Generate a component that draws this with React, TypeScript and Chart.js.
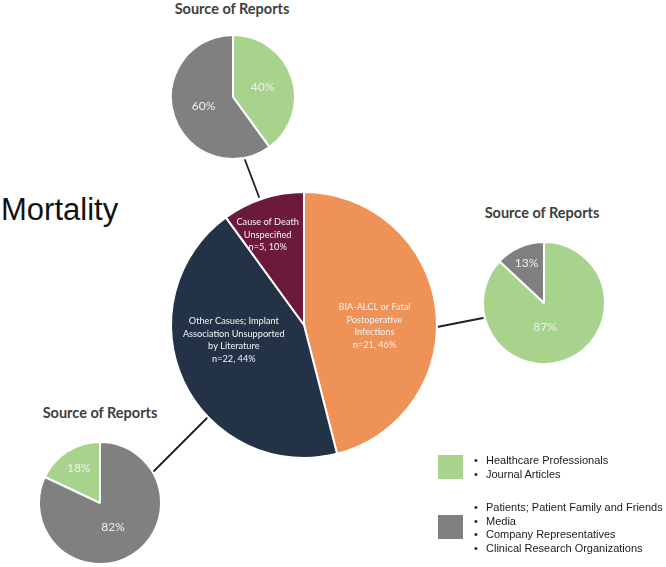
import React, { useEffect, useRef } from "react";
import { Chart, registerables } from "chart.js";

Chart.register(...registerables);

// ---------- data ----------
const mainCategories = [
  "BIA-ALCL or Fatal\nPostoperative\nInfections",
  "Other Casues; Implant\nAssociation Unsupported\nby Literature",
  "Cause of Death\nUnspecified",
];
const mainPercents = [46, 44, 10];
const mainCounts = [21, 22, 5];

const sourceCategories = [
  "Healthcare Professionals; Journal Articles",
  "Patients; Patient Family and Friends; Media; Company Representatives; Clinical Research Organizations",
];
const topSourcePercents = [40, 60];
const rightSourcePercents = [87, 13];
const bottomSourcePercents = [18, 82];

const legendHealthcare = ["Healthcare Professionals", "Journal Articles"];
const legendOther = [
  "Patients; Patient Family and Friends",
  "Media",
  "Company Representatives",
  "Clinical Research Organizations",
];

const mainTitle = "Mortality";
const sourceTitle = "Source of Reports";

// ---------- styles ----------
const mainColors = ["#EF9257", "#243248", "#6C1A3B"];
const sourceColors = ["#A8D38D", "#808080"];
const labelFont = "'Lato', 'Open Sans', sans-serif";

const sliceLabels = {
  id: "sliceLabels",
  afterDatasetsDraw(chart: any, _args: any, opts: any) {
    const ctx = chart.ctx;
    const meta = chart.getDatasetMeta(0);
    ctx.save();
    ctx.fillStyle = opts.color;
    ctx.font = opts.font;
    ctx.textAlign = "center";
    ctx.textBaseline = "middle";
    meta.data.forEach((arc: any, i: number) => {
      const p = arc.getProps(["x", "y", "startAngle", "endAngle", "outerRadius"], true);
      const shift = ((opts.angleShift && opts.angleShift[i]) || 0) * Math.PI / 180;
      const mid = (p.startAngle + p.endAngle) / 2 + shift;
      const rr = p.outerRadius * ((opts.factors && opts.factors[i]) || 0.5);
      const px = p.x + Math.cos(mid) * rr;
      const py = p.y + Math.sin(mid) * rr;
      const lines = String(opts.texts[i]).split("\n");
      lines.forEach((ln: string, k: number) => {
        ctx.fillText(ln, px, py + (k - (lines.length - 1) / 2) * opts.lineHeight);
      });
    });
    ctx.restore();
  },
};

type PieProps = {
  cx: number;
  cy: number;
  r: number;
  labels: string[];
  values: number[];
  colors: string[];
  rotation?: number;
  texts: string[];
  font: string;
  lineHeight: number;
  factors?: number[];
  angleShift?: number[];
  textColor: string;
};

function Pie(props: PieProps) {
  const ref = useRef<HTMLCanvasElement>(null);
  const size = props.r * 2 + 10;
  useEffect(() => {
    if (!ref.current) return;
    const chart = new Chart(ref.current, {
      type: "pie",
      data: {
        labels: props.labels,
        datasets: [
          {
            data: props.values,
            backgroundColor: props.colors,
            borderColor: "#ffffff",
            borderWidth: 2,
          },
        ],
      },
      options: {
        responsive: false,
        animation: false,
        events: [],
        radius: props.r,
        rotation: props.rotation || 0,
        layout: { padding: 0 },
        plugins: {
          legend: { display: false },
          tooltip: { enabled: false },
          sliceLabels: {
            texts: props.texts,
            font: props.font,
            lineHeight: props.lineHeight,
            factors: props.factors,
            angleShift: props.angleShift,
            color: props.textColor,
          },
        } as any,
      } as any,
      plugins: [sliceLabels as any],
    });
    return () => chart.destroy();
  }, []);
  return (
    <canvas
      ref={ref}
      width={size}
      height={size}
      style={{
        position: "absolute",
        left: props.cx - size / 2,
        top: props.cy - size / 2,
        width: size,
        height: size,
      }}
    />
  );
}

const sourceTitleStyle: React.CSSProperties = {
  position: "absolute",
  fontFamily: labelFont,
  fontSize: 14.5,
  fontWeight: 700,
  color: "#404040",
  whiteSpace: "nowrap",
  transform: "translateX(-50%)",
  lineHeight: "18px",
};

const legendText: React.CSSProperties = {
  fontFamily: "'Liberation Sans', Arial, sans-serif",
  fontSize: 11,
  color: "#1a1a1a",
  lineHeight: "13.7px",
  whiteSpace: "nowrap",
  margin: 0,
  paddingLeft: 0,
};

function BulletList({ items, top }: { items: string[]; top: number }) {
  return (
    <div style={{ position: "absolute", left: 474, top, ...legendText }}>
      {items.map((t) => (
        <div key={t}>
          <span style={{ display: "inline-block", width: 12 }}>•</span>
          {t}
        </div>
      ))}
    </div>
  );
}

export default function App() {
  useEffect(() => {
    document.body.style.margin = "0";
    document.body.style.background = "#ffffff";
  }, []);

  const pct = (v: number) => `${v}%`;
  const mainTexts = mainCategories.map((c, i) => `${c}\nn=${mainCounts[i]}, ${mainPercents[i]}%`);
  const bottomRotation = -(bottomSourcePercents[0] / 100) * 360;

  return (
    <div style={{ position: "relative", width: 666, height: 567, background: "#ffffff", overflow: "hidden" }}>
      <svg width={666} height={567} style={{ position: "absolute", left: 0, top: 0 }}>
        <g stroke="#1f1f2a" strokeWidth={1.8} strokeLinecap="round">
          <line x1={245} y1={160} x2={259} y2={197} />
          <line x1={437} y1={327} x2={483} y2={318} />
          <line x1={207} y1={418} x2={154} y2={471} />
        </g>
      </svg>

      <Pie
        cx={304}
        cy={325}
        r={133}
        labels={mainCategories}
        values={mainPercents}
        colors={mainColors}
        texts={mainTexts}
        font={`9.2px ${labelFont}`}
        lineHeight={12.5}
        factors={[0.53, 0.54, 0.73]}
        angleShift={[8, 13, -4]}
        textColor="#f4f4f4"
      />
      <Pie
        cx={233}
        cy={97}
        r={62}
        labels={sourceCategories}
        values={topSourcePercents}
        colors={sourceColors}
        texts={topSourcePercents.map(pct)}
        font={`12px ${labelFont}`}
        lineHeight={14}
        textColor="#f0f0f0"
      />
      <Pie
        cx={544}
        cy={303}
        r={61}
        labels={sourceCategories}
        values={rightSourcePercents}
        colors={sourceColors}
        texts={rightSourcePercents.map(pct)}
        font={`12px ${labelFont}`}
        lineHeight={14}
        factors={[0.4, 0.72]}
        angleShift={[21, 0]}
        textColor="#f0f0f0"
      />
      <Pie
        cx={100}
        cy={503}
        r={61}
        labels={sourceCategories}
        values={bottomSourcePercents}
        colors={sourceColors}
        rotation={bottomRotation}
        texts={bottomSourcePercents.map(pct)}
        font={`12px ${labelFont}`}
        lineHeight={14}
        factors={[0.67, 0.45]}
        angleShift={[1, 4]}
        textColor="#f0f0f0"
      />

      <div style={{ ...sourceTitleStyle, left: 232, top: 0 }}>{sourceTitle}</div>
      <div style={{ ...sourceTitleStyle, left: 542, top: 204 }}>{sourceTitle}</div>
      <div style={{ ...sourceTitleStyle, left: 100, top: 404 }}>{sourceTitle}</div>

      <div
        style={{
          position: "absolute",
          left: 1,
          top: 192,
          fontFamily: "'Liberation Sans', Arial, sans-serif",
          fontSize: 31,
          fontWeight: 400,
          color: "#111111",
          lineHeight: "36px",
          whiteSpace: "nowrap",
        }}
      >
        {mainTitle}
      </div>

      <div style={{ position: "absolute", left: 438, top: 455, width: 25, height: 24, background: sourceColors[0] }} />
      <div style={{ position: "absolute", left: 438, top: 515, width: 25, height: 24, background: sourceColors[1] }} />
      <BulletList items={legendHealthcare} top={454} />
      <BulletList items={legendOther} top={501} />
    </div>
  );
}
